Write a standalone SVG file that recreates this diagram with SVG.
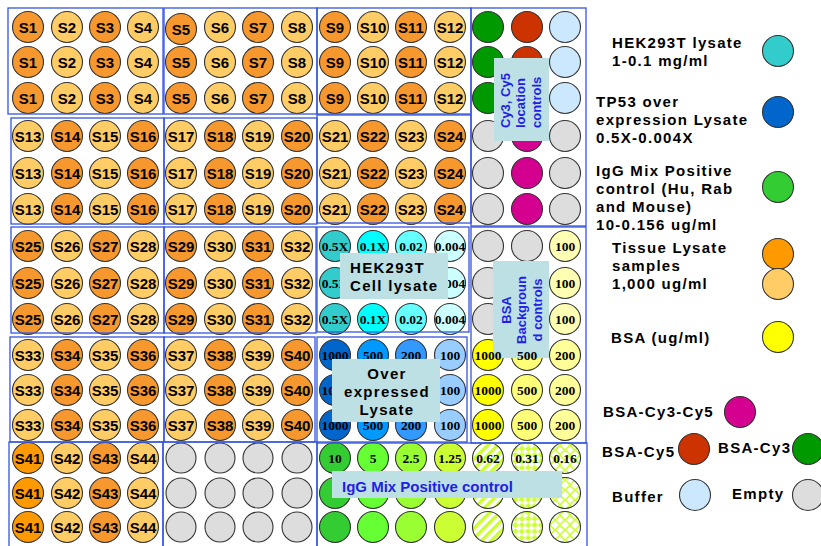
<svg xmlns="http://www.w3.org/2000/svg" width="821" height="546" viewBox="0 0 821 546">
<style>
circle{stroke:#333;stroke-width:1.1}
.d{fill:#F7982F}.l{fill:#FFCC66}.o{fill:#FF9900}.g{fill:#DDDDDD}
.s{font-family:"Liberation Sans",Arial,sans-serif;font-weight:bold;font-size:15px;text-anchor:middle;fill:#000}
.n{font-family:"Liberation Serif","Times New Roman",serif;font-weight:bold;font-size:13.5px;text-anchor:middle;fill:#000}
.box{fill:none;stroke:#3355DD;stroke-width:1.3}
.lab{fill:#BCE0E3}
.bl{font-family:"Liberation Sans",Arial,sans-serif;font-weight:bold;font-size:13px;fill:#1F1FE8}
.bk{font-family:"Liberation Sans",Arial,sans-serif;font-weight:bold;font-size:15px;fill:#000;letter-spacing:1.3px}
</style>
<defs>
<pattern id="p1" width="7" height="7" patternUnits="userSpaceOnUse" patternTransform="rotate(45)"><rect width="7" height="7" fill="#fff"/><rect width="3.5" height="7" fill="#CCFF33"/></pattern>
<pattern id="p2" width="9" height="9" patternUnits="userSpaceOnUse" patternTransform="rotate(45)"><rect width="9" height="9" fill="#fff"/><rect width="4.5" height="4.5" fill="#CCFF33"/><rect x="4.5" y="4.5" width="4.5" height="4.5" fill="#CCFF33"/></pattern>
<pattern id="p3" width="10" height="10" patternUnits="userSpaceOnUse"><rect width="10" height="10" fill="#fff"/><path d="M0 5 Q2.5 2 5 0 M5 0 Q7.5 2 10 5 M10 5 Q7.5 8 5 10 M5 10 Q2.5 8 0 5" fill="none" stroke="#CCFF33" stroke-width="1.6"/></pattern>
</defs>
<rect width="821" height="546" fill="#fff"/>

<g id="block-S1-S4">
<circle class="d" cx="28" cy="27" r="15.5"/><text class="s" x="28" y="32.5">S1</text>
<circle class="l" cx="67" cy="27" r="15.5"/><text class="s" x="67" y="32.5">S2</text>
<circle class="d" cx="105" cy="27" r="15.5"/><text class="s" x="105" y="32.5">S3</text>
<circle class="l" cx="143" cy="27" r="15.5"/><text class="s" x="143" y="32.5">S4</text>
<circle class="d" cx="28" cy="62" r="15.5"/><text class="s" x="28" y="67.5">S1</text>
<circle class="l" cx="67" cy="62" r="15.5"/><text class="s" x="67" y="67.5">S2</text>
<circle class="d" cx="105" cy="62" r="15.5"/><text class="s" x="105" y="67.5">S3</text>
<circle class="l" cx="143" cy="62" r="15.5"/><text class="s" x="143" y="67.5">S4</text>
<circle class="d" cx="28" cy="98" r="15.5"/><text class="s" x="28" y="103.5">S1</text>
<circle class="l" cx="67" cy="98" r="15.5"/><text class="s" x="67" y="103.5">S2</text>
<circle class="d" cx="105" cy="98" r="15.5"/><text class="s" x="105" y="103.5">S3</text>
<circle class="l" cx="143" cy="98" r="15.5"/><text class="s" x="143" y="103.5">S4</text>
</g>
<g id="block-S5-S8">
<circle class="d" cx="181" cy="29" r="15.5"/><text class="s" x="181" y="34.5">S5</text>
<circle class="l" cx="220" cy="27" r="15.5"/><text class="s" x="220" y="32.5">S6</text>
<circle class="d" cx="258" cy="27" r="15.5"/><text class="s" x="258" y="32.5">S7</text>
<circle class="l" cx="297" cy="27" r="15.5"/><text class="s" x="297" y="32.5">S8</text>
<circle class="d" cx="181" cy="62" r="15.5"/><text class="s" x="181" y="67.5">S5</text>
<circle class="l" cx="220" cy="62" r="15.5"/><text class="s" x="220" y="67.5">S6</text>
<circle class="d" cx="258" cy="62" r="15.5"/><text class="s" x="258" y="67.5">S7</text>
<circle class="l" cx="297" cy="62" r="15.5"/><text class="s" x="297" y="67.5">S8</text>
<circle class="d" cx="181" cy="98" r="15.5"/><text class="s" x="181" y="103.5">S5</text>
<circle class="l" cx="220" cy="98" r="15.5"/><text class="s" x="220" y="103.5">S6</text>
<circle class="d" cx="258" cy="98" r="15.5"/><text class="s" x="258" y="103.5">S7</text>
<circle class="l" cx="297" cy="98" r="15.5"/><text class="s" x="297" y="103.5">S8</text>
</g>
<g id="block-S9-S12">
<circle class="d" cx="335" cy="27" r="15.5"/><text class="s" x="335" y="32.5">S9</text>
<circle class="l" cx="373" cy="27" r="15.5"/><text class="s" x="373" y="32.5">S10</text>
<circle class="d" cx="411" cy="27" r="15.5"/><text class="s" x="411" y="32.5">S11</text>
<circle class="l" cx="450" cy="27" r="15.5"/><text class="s" x="450" y="32.5">S12</text>
<circle class="d" cx="335" cy="62" r="15.5"/><text class="s" x="335" y="67.5">S9</text>
<circle class="l" cx="373" cy="62" r="15.5"/><text class="s" x="373" y="67.5">S10</text>
<circle class="d" cx="411" cy="62" r="15.5"/><text class="s" x="411" y="67.5">S11</text>
<circle class="l" cx="450" cy="62" r="15.5"/><text class="s" x="450" y="67.5">S12</text>
<circle class="d" cx="335" cy="98" r="15.5"/><text class="s" x="335" y="103.5">S9</text>
<circle class="l" cx="373" cy="98" r="15.5"/><text class="s" x="373" y="103.5">S10</text>
<circle class="d" cx="411" cy="98" r="15.5"/><text class="s" x="411" y="103.5">S11</text>
<circle class="l" cx="450" cy="98" r="15.5"/><text class="s" x="450" y="103.5">S12</text>
</g>
<g id="block-S13-S16">
<circle class="l" cx="28" cy="136" r="15.5"/><text class="s" x="28" y="141.5">S13</text>
<circle class="d" cx="67" cy="136" r="15.5"/><text class="s" x="67" y="141.5">S14</text>
<circle class="l" cx="105" cy="136" r="15.5"/><text class="s" x="105" y="141.5">S15</text>
<circle class="d" cx="143" cy="136" r="15.5"/><text class="s" x="143" y="141.5">S16</text>
<circle class="l" cx="28" cy="173" r="15.5"/><text class="s" x="28" y="178.5">S13</text>
<circle class="d" cx="67" cy="173" r="15.5"/><text class="s" x="67" y="178.5">S14</text>
<circle class="l" cx="105" cy="173" r="15.5"/><text class="s" x="105" y="178.5">S15</text>
<circle class="d" cx="143" cy="173" r="15.5"/><text class="s" x="143" y="178.5">S16</text>
<circle class="l" cx="28" cy="209" r="15.5"/><text class="s" x="28" y="214.5">S13</text>
<circle class="d" cx="67" cy="209" r="15.5"/><text class="s" x="67" y="214.5">S14</text>
<circle class="l" cx="105" cy="209" r="15.5"/><text class="s" x="105" y="214.5">S15</text>
<circle class="d" cx="143" cy="209" r="15.5"/><text class="s" x="143" y="214.5">S16</text>
</g>
<g id="block-S17-S20">
<circle class="l" cx="181" cy="136" r="15.5"/><text class="s" x="181" y="141.5">S17</text>
<circle class="d" cx="220" cy="136" r="15.5"/><text class="s" x="220" y="141.5">S18</text>
<circle class="l" cx="258" cy="136" r="15.5"/><text class="s" x="258" y="141.5">S19</text>
<circle class="d" cx="297" cy="136" r="15.5"/><text class="s" x="297" y="141.5">S20</text>
<circle class="l" cx="181" cy="173" r="15.5"/><text class="s" x="181" y="178.5">S17</text>
<circle class="d" cx="220" cy="173" r="15.5"/><text class="s" x="220" y="178.5">S18</text>
<circle class="l" cx="258" cy="173" r="15.5"/><text class="s" x="258" y="178.5">S19</text>
<circle class="d" cx="297" cy="173" r="15.5"/><text class="s" x="297" y="178.5">S20</text>
<circle class="l" cx="181" cy="209" r="15.5"/><text class="s" x="181" y="214.5">S17</text>
<circle class="d" cx="220" cy="209" r="15.5"/><text class="s" x="220" y="214.5">S18</text>
<circle class="l" cx="258" cy="209" r="15.5"/><text class="s" x="258" y="214.5">S19</text>
<circle class="d" cx="297" cy="209" r="15.5"/><text class="s" x="297" y="214.5">S20</text>
</g>
<g id="block-S21-S24">
<circle class="l" cx="335" cy="136" r="15.5"/><text class="s" x="335" y="141.5">S21</text>
<circle class="d" cx="373" cy="136" r="15.5"/><text class="s" x="373" y="141.5">S22</text>
<circle class="l" cx="411" cy="136" r="15.5"/><text class="s" x="411" y="141.5">S23</text>
<circle class="d" cx="450" cy="136" r="15.5"/><text class="s" x="450" y="141.5">S24</text>
<circle class="l" cx="335" cy="173" r="15.5"/><text class="s" x="335" y="178.5">S21</text>
<circle class="d" cx="373" cy="173" r="15.5"/><text class="s" x="373" y="178.5">S22</text>
<circle class="l" cx="411" cy="173" r="15.5"/><text class="s" x="411" y="178.5">S23</text>
<circle class="d" cx="450" cy="173" r="15.5"/><text class="s" x="450" y="178.5">S24</text>
<circle class="l" cx="335" cy="209" r="15.5"/><text class="s" x="335" y="214.5">S21</text>
<circle class="d" cx="373" cy="209" r="15.5"/><text class="s" x="373" y="214.5">S22</text>
<circle class="l" cx="411" cy="209" r="15.5"/><text class="s" x="411" y="214.5">S23</text>
<circle class="d" cx="450" cy="209" r="15.5"/><text class="s" x="450" y="214.5">S24</text>
</g>
<g id="block-S25-S28">
<circle class="d" cx="28" cy="246" r="15.5"/><text class="s" x="28" y="251.5">S25</text>
<circle class="l" cx="67" cy="246" r="15.5"/><text class="s" x="67" y="251.5">S26</text>
<circle class="d" cx="105" cy="246" r="15.5"/><text class="s" x="105" y="251.5">S27</text>
<circle class="l" cx="143" cy="246" r="15.5"/><text class="s" x="143" y="251.5">S28</text>
<circle class="d" cx="28" cy="283" r="15.5"/><text class="s" x="28" y="288.5">S25</text>
<circle class="l" cx="67" cy="283" r="15.5"/><text class="s" x="67" y="288.5">S26</text>
<circle class="d" cx="105" cy="283" r="15.5"/><text class="s" x="105" y="288.5">S27</text>
<circle class="l" cx="143" cy="283" r="15.5"/><text class="s" x="143" y="288.5">S28</text>
<circle class="d" cx="28" cy="319" r="15.5"/><text class="s" x="28" y="324.5">S25</text>
<circle class="l" cx="67" cy="319" r="15.5"/><text class="s" x="67" y="324.5">S26</text>
<circle class="d" cx="105" cy="319" r="15.5"/><text class="s" x="105" y="324.5">S27</text>
<circle class="l" cx="143" cy="319" r="15.5"/><text class="s" x="143" y="324.5">S28</text>
</g>
<g id="block-S29-S32">
<circle class="d" cx="181" cy="246" r="15.5"/><text class="s" x="181" y="251.5">S29</text>
<circle class="l" cx="220" cy="246" r="15.5"/><text class="s" x="220" y="251.5">S30</text>
<circle class="d" cx="258" cy="246" r="15.5"/><text class="s" x="258" y="251.5">S31</text>
<circle class="l" cx="297" cy="246" r="15.5"/><text class="s" x="297" y="251.5">S32</text>
<circle class="d" cx="181" cy="283" r="15.5"/><text class="s" x="181" y="288.5">S29</text>
<circle class="l" cx="220" cy="283" r="15.5"/><text class="s" x="220" y="288.5">S30</text>
<circle class="d" cx="258" cy="283" r="15.5"/><text class="s" x="258" y="288.5">S31</text>
<circle class="l" cx="297" cy="283" r="15.5"/><text class="s" x="297" y="288.5">S32</text>
<circle class="d" cx="181" cy="319" r="15.5"/><text class="s" x="181" y="324.5">S29</text>
<circle class="l" cx="220" cy="319" r="15.5"/><text class="s" x="220" y="324.5">S30</text>
<circle class="d" cx="258" cy="319" r="15.5"/><text class="s" x="258" y="324.5">S31</text>
<circle class="l" cx="297" cy="319" r="15.5"/><text class="s" x="297" y="324.5">S32</text>
</g>
<g id="block-S33-S36">
<circle class="l" cx="28" cy="355" r="15.5"/><text class="s" x="28" y="360.5">S33</text>
<circle class="d" cx="67" cy="355" r="15.5"/><text class="s" x="67" y="360.5">S34</text>
<circle class="l" cx="105" cy="355" r="15.5"/><text class="s" x="105" y="360.5">S35</text>
<circle class="d" cx="143" cy="355" r="15.5"/><text class="s" x="143" y="360.5">S36</text>
<circle class="l" cx="28" cy="390" r="15.5"/><text class="s" x="28" y="395.5">S33</text>
<circle class="d" cx="67" cy="390" r="15.5"/><text class="s" x="67" y="395.5">S34</text>
<circle class="l" cx="105" cy="390" r="15.5"/><text class="s" x="105" y="395.5">S35</text>
<circle class="d" cx="143" cy="390" r="15.5"/><text class="s" x="143" y="395.5">S36</text>
<circle class="l" cx="28" cy="425" r="15.5"/><text class="s" x="28" y="430.5">S33</text>
<circle class="d" cx="67" cy="425" r="15.5"/><text class="s" x="67" y="430.5">S34</text>
<circle class="l" cx="105" cy="425" r="15.5"/><text class="s" x="105" y="430.5">S35</text>
<circle class="d" cx="143" cy="425" r="15.5"/><text class="s" x="143" y="430.5">S36</text>
</g>
<g id="block-S37-S40">
<circle class="l" cx="181" cy="355" r="15.5"/><text class="s" x="181" y="360.5">S37</text>
<circle class="d" cx="220" cy="355" r="15.5"/><text class="s" x="220" y="360.5">S38</text>
<circle class="l" cx="258" cy="355" r="15.5"/><text class="s" x="258" y="360.5">S39</text>
<circle class="d" cx="297" cy="355" r="15.5"/><text class="s" x="297" y="360.5">S40</text>
<circle class="l" cx="181" cy="390" r="15.5"/><text class="s" x="181" y="395.5">S37</text>
<circle class="d" cx="220" cy="390" r="15.5"/><text class="s" x="220" y="395.5">S38</text>
<circle class="l" cx="258" cy="390" r="15.5"/><text class="s" x="258" y="395.5">S39</text>
<circle class="d" cx="297" cy="390" r="15.5"/><text class="s" x="297" y="395.5">S40</text>
<circle class="l" cx="181" cy="425" r="15.5"/><text class="s" x="181" y="430.5">S37</text>
<circle class="d" cx="220" cy="425" r="15.5"/><text class="s" x="220" y="430.5">S38</text>
<circle class="l" cx="258" cy="425" r="15.5"/><text class="s" x="258" y="430.5">S39</text>
<circle class="d" cx="297" cy="425" r="15.5"/><text class="s" x="297" y="430.5">S40</text>
</g>
<g id="block-S41-S44">
<circle class="o" cx="28" cy="458" r="15.5"/><text class="s" x="28" y="463.5">S41</text>
<circle class="l" cx="67" cy="458" r="15.5"/><text class="s" x="67" y="463.5">S42</text>
<circle class="d" cx="105" cy="458" r="15.5"/><text class="s" x="105" y="463.5">S43</text>
<circle class="l" cx="143" cy="458" r="15.5"/><text class="s" x="143" y="463.5">S44</text>
<circle class="o" cx="28" cy="493" r="15.5"/><text class="s" x="28" y="498.5">S41</text>
<circle class="l" cx="67" cy="493" r="15.5"/><text class="s" x="67" y="498.5">S42</text>
<circle class="d" cx="105" cy="493" r="15.5"/><text class="s" x="105" y="498.5">S43</text>
<circle class="l" cx="143" cy="493" r="15.5"/><text class="s" x="143" y="498.5">S44</text>
<circle class="o" cx="28" cy="527" r="15.5"/><text class="s" x="28" y="532.5">S41</text>
<circle class="l" cx="67" cy="527" r="15.5"/><text class="s" x="67" y="532.5">S42</text>
<circle class="d" cx="105" cy="527" r="15.5"/><text class="s" x="105" y="532.5">S43</text>
<circle class="l" cx="143" cy="527" r="15.5"/><text class="s" x="143" y="532.5">S44</text>
</g>
<g id="block-empty">
<circle class="g" cx="181" cy="458" r="15"/><circle class="g" cx="220" cy="458" r="15"/><circle class="g" cx="258" cy="458" r="15"/><circle class="g" cx="297" cy="458" r="15"/>
<circle class="g" cx="181" cy="493" r="15"/><circle class="g" cx="220" cy="493" r="15"/><circle class="g" cx="258" cy="493" r="15"/><circle class="g" cx="297" cy="493" r="15"/>
<circle class="g" cx="181" cy="527" r="15"/><circle class="g" cx="220" cy="527" r="15"/><circle class="g" cx="258" cy="527" r="15"/><circle class="g" cx="297" cy="527" r="15"/>
</g>
<g id="block-location-controls">
<circle fill="#009900" cx="488" cy="27" r="15.5"/><circle fill="#CC3300" cx="527" cy="27" r="15.5"/><circle fill="#CCE8FF" cx="565" cy="27" r="15.5"/>
<circle fill="#009900" cx="488" cy="62" r="15.5"/><circle fill="#CC3300" cx="527" cy="62" r="15.5"/><circle fill="#CCE8FF" cx="565" cy="62" r="15.5"/>
<circle fill="#009900" cx="488" cy="98" r="15.5"/><circle fill="#CC3300" cx="527" cy="98" r="15.5"/><circle fill="#CCE8FF" cx="565" cy="98" r="15.5"/>
<circle class="g" cx="488" cy="136" r="15.5"/><circle fill="#D4008F" cx="527" cy="136" r="15.5"/><circle class="g" cx="565" cy="136" r="15.5"/>
<circle class="g" cx="488" cy="173" r="15.5"/><circle fill="#D4008F" cx="527" cy="173" r="15.5"/><circle class="g" cx="565" cy="173" r="15.5"/>
<circle class="g" cx="488" cy="209" r="15.5"/><circle fill="#D4008F" cx="527" cy="209" r="15.5"/><circle class="g" cx="565" cy="209" r="15.5"/>
</g>
<g id="block-hek">
<circle fill="#33CCCC" cx="335" cy="246" r="15.5"/><text class="n" x="335" y="250.5">0.5X</text>
<circle fill="#00FFFF" cx="373" cy="246" r="15.5"/><text class="n" x="373" y="250.5">0.1X</text>
<circle fill="#66FFFF" cx="411" cy="246" r="15.5"/><text class="n" x="411" y="250.5">0.02</text>
<circle fill="#CCFFFF" cx="450" cy="246" r="15.5"/><text class="n" x="450" y="250.5">0.004</text>
<circle fill="#33CCCC" cx="335" cy="283" r="15.5"/><text class="n" x="335" y="287.5">0.5X</text>
<circle fill="#00FFFF" cx="373" cy="283" r="15.5"/>
<circle fill="#66FFFF" cx="411" cy="283" r="15.5"/>
<circle fill="#CCFFFF" cx="450" cy="283" r="15.5"/><text class="n" x="450" y="287.5">0.004</text>
<circle fill="#33CCCC" cx="335" cy="319" r="15.5"/><text class="n" x="335" y="323.5">0.5X</text>
<circle fill="#00FFFF" cx="373" cy="319" r="15.5"/><text class="n" x="373" y="323.5">0.1X</text>
<circle fill="#66FFFF" cx="411" cy="319" r="15.5"/><text class="n" x="411" y="323.5">0.02</text>
<circle fill="#CCFFFF" cx="450" cy="319" r="15.5"/><text class="n" x="450" y="323.5">0.004</text>
</g>
<g id="block-bsa">
<circle class="g" cx="488" cy="246" r="15.5"/><circle class="g" cx="527" cy="246" r="15.5"/><circle fill="#FFFFB3" cx="565" cy="246" r="15.5"/><text class="n" x="565" y="250.5">100</text>
<circle class="g" cx="488" cy="283" r="15.5"/><circle class="g" cx="527" cy="283" r="15.5"/><circle fill="#FFFFB3" cx="565" cy="283" r="15.5"/><text class="n" x="565" y="287.5">100</text>
<circle class="g" cx="488" cy="319" r="15.5"/><circle class="g" cx="527" cy="319" r="15.5"/><circle fill="#FFFFB3" cx="565" cy="319" r="15.5"/><text class="n" x="565" y="323.5">100</text>
<circle fill="#FFFF00" cx="488" cy="355" r="15.5"/>
<circle fill="#FFFF77" cx="527" cy="355" r="15.5"/>
<circle fill="#FFFF99" cx="565" cy="355" r="15.5"/><text class="n" x="565" y="359.5">200</text>
<circle fill="#FFFF00" cx="488" cy="390" r="15.5"/><text class="n" x="488" y="394.5">1000</text>
<circle fill="#FFFF77" cx="527" cy="390" r="15.5"/><text class="n" x="527" y="394.5">500</text>
<circle fill="#FFFF99" cx="565" cy="390" r="15.5"/><text class="n" x="565" y="394.5">200</text>
<circle fill="#FFFF00" cx="488" cy="425" r="15.5"/><text class="n" x="488" y="429.5">1000</text>
<circle fill="#FFFF77" cx="527" cy="425" r="15.5"/><text class="n" x="527" y="429.5">500</text>
<circle fill="#FFFF99" cx="565" cy="425" r="15.5"/><text class="n" x="565" y="429.5">200</text>
</g>
<g id="block-overexpressed">
<circle fill="#0066CC" cx="335" cy="355" r="15.5"/><text class="n" x="335" y="359.5">1000</text>
<circle fill="#0099FF" cx="373" cy="355" r="15.5"/><text class="n" x="373" y="359.5">500</text>
<circle fill="#3399FF" cx="411" cy="355" r="15.5"/><text class="n" x="411" y="359.5">200</text>
<circle fill="#99CCFF" cx="450" cy="355" r="15.5"/><text class="n" x="450" y="359.5">100</text>
<circle fill="#0066CC" cx="335" cy="390" r="15.5"/><text class="n" x="335" y="394.5">1000</text>
<circle fill="#0099FF" cx="373" cy="390" r="15.5"/>
<circle fill="#3399FF" cx="411" cy="390" r="15.5"/>
<circle fill="#99CCFF" cx="450" cy="390" r="15.5"/><text class="n" x="450" y="394.5">100</text>
<circle fill="#0066CC" cx="335" cy="425" r="15.5"/><text class="n" x="335" y="429.5">1000</text>
<circle fill="#0099FF" cx="373" cy="425" r="15.5"/><text class="n" x="373" y="429.5">500</text>
<circle fill="#3399FF" cx="411" cy="425" r="15.5"/><text class="n" x="411" y="429.5">200</text>
<circle fill="#99CCFF" cx="450" cy="425" r="15.5"/><text class="n" x="450" y="429.5">100</text>
</g>
<g id="block-igg">
<circle fill="#33CC33" cx="335" cy="458" r="15.5"/><text class="n" x="335" y="462.5">10</text>
<circle fill="#66FF33" cx="373" cy="458" r="15.5"/><text class="n" x="373" y="462.5">5</text>
<circle fill="#99FF33" cx="411" cy="458" r="15.5"/><text class="n" x="411" y="462.5">2.5</text>
<circle fill="#CCFF33" cx="450" cy="458" r="15.5"/><text class="n" x="450" y="462.5">1.25</text>
<circle fill="url(#p1)" cx="488" cy="458" r="15.5"/><text class="n" x="488" y="462.5">0.62</text>
<circle fill="url(#p2)" cx="527" cy="458" r="15.5"/><text class="n" x="527" y="462.5">0.31</text>
<circle fill="url(#p3)" cx="565" cy="458" r="15.5"/><text class="n" x="565" y="462.5">0.16</text>
<circle fill="#33CC33" cx="335" cy="493" r="15.5"/><circle fill="#66FF33" cx="373" cy="493" r="15.5"/><circle fill="#99FF33" cx="411" cy="493" r="15.5"/><circle fill="#CCFF33" cx="450" cy="493" r="15.5"/>
<circle fill="url(#p1)" cx="488" cy="493" r="15.5"/><circle fill="url(#p2)" cx="527" cy="493" r="15.5"/><circle fill="url(#p3)" cx="565" cy="493" r="15.5"/>
<circle fill="#33CC33" cx="335" cy="527" r="15.5"/><circle fill="#66FF33" cx="373" cy="527" r="15.5"/><circle fill="#99FF33" cx="411" cy="527" r="15.5"/><circle fill="#CCFF33" cx="450" cy="527" r="15.5"/>
<circle fill="url(#p1)" cx="488" cy="527" r="15.5"/><circle fill="url(#p2)" cx="527" cy="527" r="15.5"/><circle fill="url(#p3)" cx="565" cy="527" r="15.5"/>
</g>

<g id="group-boxes">
<rect class="box" x="8" y="8" width="155" height="106"/>
<rect class="box" x="164" y="8" width="153" height="106"/>
<rect class="box" x="317" y="8" width="154" height="106"/>
<rect class="box" x="471" y="8" width="115" height="218"/>
<rect class="box" x="11" y="118" width="153" height="106"/>
<rect class="box" x="164" y="118" width="153" height="106"/>
<rect class="box" x="317" y="115" width="154" height="108"/>
<rect class="box" x="11" y="227" width="153" height="106"/>
<rect class="box" x="164" y="227" width="152" height="106"/>
<rect class="box" x="317" y="227" width="152" height="105"/>
<rect class="box" x="471" y="227" width="115" height="216"/>
<rect class="box" x="10" y="337" width="154" height="105"/>
<rect class="box" x="164" y="337" width="151" height="105"/>
<rect class="box" x="317" y="337" width="150" height="105"/>
<rect class="box" x="9" y="442" width="154" height="108"/>
<rect class="box" x="163" y="442" width="154" height="108"/>
<rect class="box" x="317" y="443" width="270" height="107"/>
</g>

<g id="label-cy">
<rect class="lab" x="494" y="58" width="55" height="83"/>
<text class="bl" transform="translate(510,128) rotate(-90)">Cy3, Cy5</text>
<text class="bl" transform="translate(525,128) rotate(-90)">location</text>
<text class="bl" transform="translate(541,128) rotate(-90)">controls</text>
</g>
<g id="label-bsa">
<rect class="lab" x="493" y="261" width="56" height="97"/>
<text class="bl" text-anchor="middle" transform="translate(511,310) rotate(-90)">BSA</text>
<text class="bl" text-anchor="middle" transform="translate(526,310) rotate(-90)">Backgroun</text>
<text class="bl" text-anchor="middle" transform="translate(542,310) rotate(-90)">d controls</text>
<text class="n" x="488" y="359.5">1000</text>
<text class="n" x="527" y="359.5">500</text>
</g>
<g id="label-hek">
<rect class="lab" x="340" y="253" width="108" height="46"/>
<text class="bk" x="350" y="273">HEK293T</text>
<text class="bk" x="350" y="291">Cell lysate</text>
</g>
<g id="label-over">
<rect class="lab" x="332" y="359" width="108" height="63"/>
<text class="bk" text-anchor="middle" x="387" y="379">Over</text>
<text class="bk" text-anchor="middle" x="387" y="397">expressed</text>
<text class="bk" text-anchor="middle" x="387" y="415">Lysate</text>
</g>
<g id="label-igg">
<rect class="lab" x="332" y="471" width="230" height="27"/>
<text class="bl" style="font-size:15px" x="342" y="492">IgG Mix Positive control</text>
</g>

<g id="legend">
<text class="bk" x="612" y="48">HEK293T lysate</text>
<text class="bk" x="612" y="66">1-0.1 mg/ml</text>
<circle fill="#33CCCC" cx="778" cy="51" r="15.5"/>
<text class="bk" x="596" y="107">TP53 over</text>
<text class="bk" x="596" y="125">expression Lysate</text>
<text class="bk" x="596" y="143">0.5X-0.004X</text>
<circle fill="#0066CC" cx="778" cy="112" r="15.5"/>
<text class="bk" x="596" y="176">IgG Mix Positive</text>
<text class="bk" x="596" y="194">control (Hu, Rab</text>
<text class="bk" x="596" y="212">and Mouse)</text>
<text class="bk" x="596" y="230">10-0.156 ug/ml</text>
<circle fill="#33CC33" cx="778" cy="187" r="15.5"/>
<text class="bk" x="612" y="253">Tissue Lysate</text>
<text class="bk" x="612" y="271">samples</text>
<text class="bk" x="612" y="289">1,000 ug/ml</text>
<circle fill="#FF9900" cx="778" cy="254" r="15.5"/>
<circle fill="#FFCC66" cx="778" cy="284" r="15.5"/>
<text class="bk" x="611" y="343">BSA (ug/ml)</text>
<circle fill="#FFFF00" cx="778" cy="337" r="15.5"/>
<text class="bk" x="603" y="417">BSA-Cy3-Cy5</text>
<circle fill="#D4008F" cx="740" cy="412" r="15.5"/>
<text class="bk" x="602" y="457">BSA-Cy5</text>
<circle fill="#CC3300" cx="694" cy="449" r="15.5"/>
<text class="bk" x="718" y="453">BSA-Cy3</text>
<circle fill="#009900" cx="808" cy="449" r="15.5"/>
<text class="bk" x="612" y="502">Buffer</text>
<circle fill="#CCE8FF" cx="695" cy="495" r="15.5"/>
<text class="bk" x="732" y="499">Empty</text>
<circle fill="#DDDDDD" cx="808" cy="495" r="15.5"/>
</g>
</svg>
